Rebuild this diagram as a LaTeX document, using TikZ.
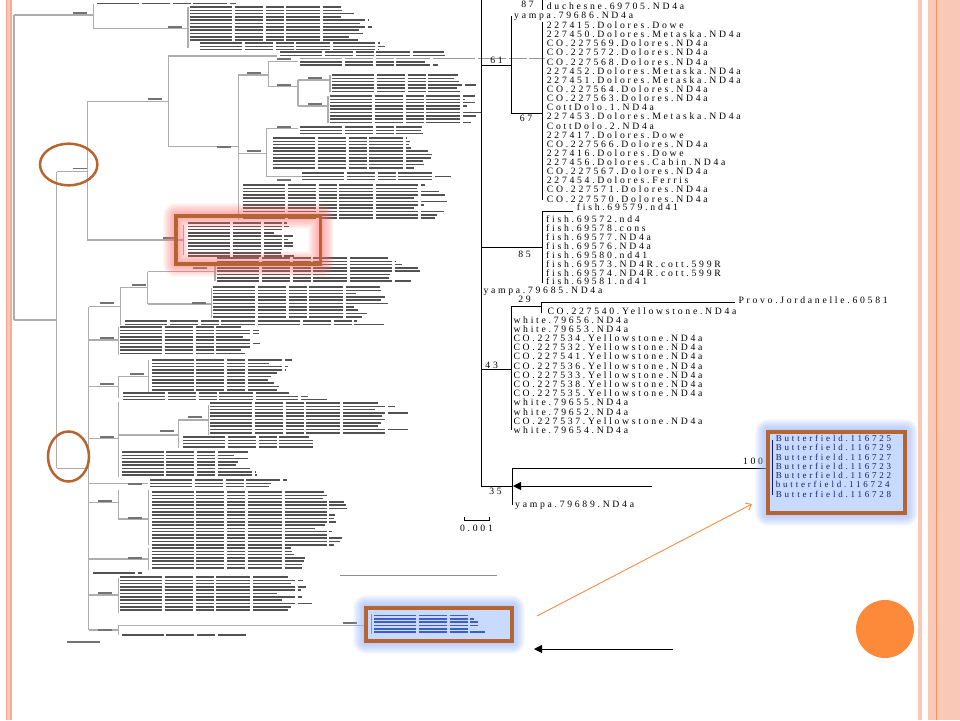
\documentclass[tikz,border=0pt]{standalone}
\usepackage{fontspec}
\setmainfont{Liberation Serif}
\newfontfamily\treefont[LetterSpace=28]{Liberation Serif}
\newfontfamily\bftreefont[LetterSpace=31]{Liberation Serif}
\usetikzlibrary{arrows.meta}
\definecolor{pinkb}{RGB}{250,200,182}
\definecolor{pinkd}{RGB}{244,170,148}
\definecolor{orline}{RGB}{240,150,100}
\definecolor{boxbrown}{RGB}{182,100,48}
\definecolor{redglow}{RGB}{255,110,110}
\definecolor{blueglow}{RGB}{140,175,255}
\definecolor{bluefill}{RGB}{200,218,255}
\definecolor{orangec}{RGB}{253,138,58}
\definecolor{orarrow}{RGB}{245,140,70}
\definecolor{navy}{RGB}{20,30,110}
\definecolor{browtxt}{RGB}{50,80,190}
\newcommand\treerows[5][black!75]{%
  \foreach \ii in {1,...,#4}{%
    \pgfmathsetmacro\ll{#5*(0.8+0.2*rnd)}%
    \draw[trow,#1] (#2,{#3+3.3*(\ii-1)}) -- ++(\ll,0);}}
\newcommand\lblob[3][14]{\draw[blob] (#2,#3) -- ++(#1,0);}
\begin{document}
\begin{tikzpicture}[x=1pt,y=-1pt,
  lab/.style={anchor=west,inner sep=0pt,font=\treefont\fontsize{9.7}{10}\selectfont},
  blab/.style={anchor=west,inner sep=0pt,text=navy,font=\bftreefont\fontsize{9}{10}\selectfont},
  bsv/.style={anchor=center,inner sep=0pt,font=\treefont\fontsize{9.7}{10}\selectfont},
  rt/.style={draw=black,line width=1pt},
  br/.style={draw=black!32,line width=1.5pt},
  trow/.style={line width=1.6pt,opacity=0.9,dash pattern=on 42pt off 2.5pt on 28pt off 3pt on 18pt off 2.5pt on 34pt off 3pt},
  blob/.style={draw=black!55,line width=1.6pt},
  brownbox/.style={draw=boxbrown,line width=3.5pt},
  brownell/.style={draw=boxbrown,line width=2.5pt},
]
\useasboundingbox (0,0) rectangle (960,720);
\clip (0,0) rectangle (960,720);
\fill[white] (0,0) rectangle (960,720);
\pgfmathsetseed{7}

% ---------- borders ----------
\fill[pinkb] (5.7,0) rectangle (11.6,720);
\fill[pinkd] (5.7,0) rectangle (6.8,720);
\fill[pinkd] (10.3,0) rectangle (11.6,720);
\fill[pinkb] (917.7,0) rectangle (921.7,720);
\fill[pinkb] (927.7,0) rectangle (960,720);
\fill[orline] (935.8,0) rectangle (937.4,720);

% ---------- left blurred tree: branches ----------
\draw[br] (14,15) -- (14,320);
\draw[br] (14,15) -- (93.3,15);
\draw[br] (93.3,3.5) -- (93.3,28.3);
\draw[br] (93.3,28.3) -- (188,28.3);
\draw[br] (188,7) -- (188,48);
\draw[br] (14,320) -- (56.7,320);
\draw[br] (56.7,171.7) -- (56.7,468.3);
\draw[br] (56.7,171.7) -- (87.3,171.7);
\draw[br] (87.3,101.7) -- (87.3,240);
\draw[br] (87.3,101.7) -- (168.3,101.7);
\draw[br] (168.3,56) -- (168.3,146.7);
\draw[br] (168.3,56) -- (277,56);
\draw[br] (168.3,146.7) -- (238.3,146.7);
\draw[br] (238.3,75) -- (238.3,220);
\draw[br] (238.3,75) -- (268.3,75);
\draw[br] (268.3,61.7) -- (268.3,86.7);
\draw[br] (268.3,61.7) -- (298,61.7);
\draw[br] (268.3,86.7) -- (298,86.7);
\draw[br] (298,80) -- (298,106);
\draw[br] (298,80) -- (330,80);
\draw[br] (330,75) -- (330,92);
\draw[br] (298,106) -- (328,106);
\draw[br] (328,96) -- (328,123);
\draw[br] (238.3,153.3) -- (266.7,153.3);
\draw[br] (266.7,128.3) -- (266.7,176.7);
\draw[br] (266.7,128.3) -- (298,128.3);
\draw[br] (266.7,176.7) -- (301.7,176.7);
\draw[br] (87.3,240) -- (183.3,240);
\draw[br] (183.3,225) -- (183.3,255);
\draw[br] (56.7,468.3) -- (88.5,468.3);
\draw[br] (88.5,306.7) -- (88.5,630);
\draw[br] (88.5,306.7) -- (120.7,306.7);
\draw[br] (120.7,287.3) -- (120.7,325);
\draw[br] (120.7,287.3) -- (147.7,287.3);
\draw[br] (147.7,271.7) -- (147.7,304);
\draw[br] (147.7,271.7) -- (215,271.7);
\draw[br] (215,262) -- (215,281);
\draw[br] (147.7,304) -- (211.7,304);
\draw[br] (211.7,288) -- (211.7,318);
\draw[br] (88.5,340) -- (118.3,340);
\draw[br] (118.3,326.7) -- (118.3,355);
\draw[br] (88.5,386.7) -- (118.3,386.7);
\draw[br] (118.3,376.7) -- (118.3,398);
\draw[br] (118.3,376.7) -- (148.3,376.7);
\draw[br] (148.3,360) -- (148.3,391.7);
\draw[br] (88.5,438.3) -- (118.3,438.3);
\draw[br] (118.3,402) -- (118.3,476.7);
\draw[br] (118.3,435) -- (178.3,435);
\draw[br] (178.3,420) -- (178.3,448.3);
\draw[br] (178.3,420) -- (208.3,420);
\draw[br] (208.3,405) -- (208.3,435);
\draw[br] (88.5,483.3) -- (148.3,483.3);
\draw[br] (88.5,502.7) -- (118.3,502.7);
\draw[br] (118.3,490) -- (118.3,519);
\draw[br] (118.3,519) -- (148.3,519);
\draw[br] (148.3,490) -- (148.3,545);
\draw[br] (88.5,559) -- (148.3,559);
\draw[br] (148.3,548.3) -- (148.3,570);
\draw[br] (88.5,595) -- (118.3,595);
\draw[br] (118.3,578.3) -- (118.3,613.3);
\draw[br] (88.5,630) -- (118.3,630);
\draw[br] (118.3,625) -- (118.3,635);
\draw[draw=black!30,line width=1pt] (118.3,625) -- (366,625);

% ---------- left blurred tree: taxon rows ----------
\treerows{97}{3.5}{1}{143}
\treerows{190}{7}{11}{183}
\treerows{200}{43}{3}{205}
\treerows{280}{52}{2}{200}
\draw[trow,black!45] (300,58.5) -- (545,58.5);
\treerows{300}{61.7}{2}{150}
\treerows{332}{75}{6}{150}
\treerows{330}{96}{9}{152}
\treerows{300}{127}{3}{125}
\treerows{273}{138}{10}{160}
\treerows{302}{173}{3}{160}
\treerows{243}{185}{11}{205}
\treerows{188}{223}{11}{107}
\treerows{217}{258}{8}{213}
\treerows{213}{287}{10}{175}
\treerows{125}{321}{2}{280}
\treerows{120}{327}{9}{147}
\treerows{151.7}{360}{10}{145}
\treerows{123}{393}{3}{205}
\treerows{210}{403}{10}{203}
\treerows{183}{437}{4}{147}
\treerows{121.7}{452}{8}{138}
\treerows{150}{480}{3}{147}
\treerows{151.7}{492}{17}{200}
\treerows{151.7}{548}{7}{173}
\treerows{93}{573}{1}{50}
\draw[black!45,line width=1pt] (340,575) -- (497,575);
\treerows{120}{577}{11}{195}
\treerows{121.7}{635}{1}{125}

% bootstrap blobs of the left tree
\lblob{73}{13}\lblob{168}{27}\lblob{148}{99}\lblob{217}{147}\lblob{247}{72.7}
\lblob{277}{59}\lblob{277}{85}\lblob{308}{78}\lblob{308}{104}\lblob{247}{151}
\lblob{277}{127}\lblob{277}{180}\lblob{163}{238}\lblob{73}{168.3}\lblob{193}{268}
\lblob{192}{303}\lblob{132}{285}\lblob{100}{303}\lblob{100}{338}\lblob{100}{384}
\lblob{130}{374}\lblob{100}{437}\lblob{160}{431}\lblob{188}{417}\lblob{128}{484}
\lblob{98}{501}\lblob{128}{518}\lblob{128}{558}\lblob{98}{593}\lblob{98}{630}
\lblob{343}{623}\lblob[33]{67}{642}

% ---------- red highlight ----------
\foreach \k in {1,...,13}{
  \draw[redglow,line width=2*\k pt,opacity=0.06,line join=round] (176,216) rectangle (320.7,264);}
\draw[brownbox] (176,216) rectangle (320.7,264);

% ---------- ellipses ----------
\draw[brownell] (68.7,164.5) ellipse [x radius=28.7,y radius=20.8];
\draw[brownell] (68.5,456.5) ellipse [x radius=20.5,y radius=25];

% ---------- bottom blue box ----------
\foreach \k in {1,...,13}{
  \draw[blueglow,line width=2*\k pt,opacity=0.07,line join=round] (366,608) rectangle (512,641);}
\fill[bluefill] (366,608) rectangle (512,641);
\draw[browtxt!60,line width=1pt] (371,614) -- (371,634);
\treerows[browtxt]{374}{615.5}{6}{117}
\draw[brownbox] (366,608) rectangle (512,641);

% ---------- right tree ----------
\draw[rt] (481,-3) -- (481,486);
\draw[rt] (542.7,-3) -- (542.7,10);
\draw[rt] (481,65.7) -- (511.7,65.7);
\draw[rt] (511.7,15.7) -- (511.7,113.3) -- (542.7,113.3);
\draw[rt] (542.7,21.7) -- (542.7,200);
\draw[rt] (481,247.3) -- (542.7,247.3);
\draw[rt] (542.7,283.3) -- (542.7,211) -- (573,211);
\draw[rt] (481,369.3) -- (511.7,369.3);
\draw[rt] (511.7,430) -- (511.7,306.7) -- (541.7,306.7);
\draw[rt] (541.7,313) -- (541.7,302.3) -- (735,302.3);
\draw[rt] (481,486) -- (512,486);
\draw[rt] (512,505) -- (512,468) -- (768,468);

% scale bar
\draw[rt] (464.3,517.3) -- (464.3,520) -- (489.3,520) -- (489.3,517.3);
\node[bsv] (scale) at (476.5,528) {0.001};

% texts
\node[lab] (duch) at (546.7,6.3) {duchesne.69705.ND4a};
\node[bsv] (b87) at (527.5,4) {87};
\node[lab] (yam1) at (514,16.2) {yampa.79686.ND4a};
\foreach \t [count=\i from 0] in {227415.Dolores.Dowe,227450.Dolores.Metaska.ND4a,CO.227569.Dolores.ND4a,CO.227572.Dolores.ND4a,CO.227568.Dolores.ND4a,227452.Dolores.Metaska.ND4a,227451.Dolores.Metaska.ND4a,CO.227564.Dolores.ND4a,CO.227563.Dolores.ND4a,CottDolo.1.ND4a,227453.Dolores.Metaska.ND4a,CottDolo.2.ND4a,227417.Dolores.Dowe,CO.227566.Dolores.ND4a,227416.Dolores.Dowe,227456.Dolores.Cabin.ND4a,CO.227567.Dolores.ND4a,227454.Dolores.Ferris,CO.227571.Dolores.ND4a,CO.227570.Dolores.ND4a}
  {\node[lab] (dol\i) at (546.7,{25.3+9.13*\i}) {\t};}
\node[bsv] (b61) at (496.5,60) {61};
\node[bsv] (b67) at (526,118.5) {67};
\node[lab] (fish0) at (576.7,207) {fish.69579.nd41};
\foreach \t [count=\i from 1] in {fish.69572.nd4,fish.69578.cons,fish.69577.ND4a,fish.69576.ND4a,fish.69580.nd41,fish.69573.ND4R.cott.599R,fish.69574.ND4R.cott.599R,fish.69581.nd41}
  {\node[lab] (fish\i) at (546,{210+8.95*\i}) {\t};}
\node[bsv] (b85) at (524.5,254.3) {85};
\node[lab] (yam2) at (483.3,291) {yampa.79685.ND4a};
\node[bsv] (b29) at (524.5,299.5) {29};
\node[lab] (provo) at (738.3,300) {Provo.Jordanelle.60581};
\node[lab] (co540) at (547.3,310.7) {CO.227540.Yellowstone.ND4a};
\foreach \t [count=\i from 0] in {white.79656.ND4a,white.79653.ND4a,CO.227534.Yellowstone.ND4a,CO.227532.Yellowstone.ND4a,CO.227541.Yellowstone.ND4a,CO.227536.Yellowstone.ND4a,CO.227533.Yellowstone.ND4a,CO.227538.Yellowstone.ND4a,CO.227535.Yellowstone.ND4a,white.79655.ND4a,white.79652.ND4a,CO.227537.Yellowstone.ND4a,white.79654.ND4a}
  {\node[lab] (yel\i) at (513.3,{320+9.17*\i}) {\t};}
\node[bsv] (b43) at (491.7,365.5) {43};
\node[bsv] (b35) at (495.5,491.5) {35};
\node[bsv] (b100) at (753,461.5) {100};
\node[lab] (yam3) at (515,505) {yampa.79689.ND4a};

% ---------- Butterfield box ----------
\foreach \k in {1,...,13}{
  \draw[blueglow,line width=2*\k pt,opacity=0.07,line join=round] (768,432) rectangle (905,513);}
\fill[bluefill] (768,432) rectangle (905,513);
\draw[navy,line width=1pt] (772,440) -- (772,495);
\foreach \t [count=\i from 0] in {Butterfield.116725,Butterfield.116729,Butterfield.116727,Butterfield.116723,Butterfield.116722,butterfield.116724,Butterfield.116728}
  {\node[blab] (bf\i) at (775.7,{438.5+9.25*\i}) {\t};}
\draw[brownbox] (768,432) rectangle (905,513);

% ---------- arrows ----------
\coordinate (a1s) at (652,486);
\coordinate (a1e) at (513,486);
\coordinate (a2s) at (673,649);
\coordinate (a2e) at (534,649);
\coordinate (a3s) at (537,616);
\coordinate (a3e) at (752,504);
\draw[line width=1pt,-{Triangle[length=8pt,width=8pt]}] (a1s) -- (a1e);
\draw[line width=1pt,-{Triangle[length=8pt,width=8pt]}] (a2s) -- (a2e);
\draw[orarrow,line width=0.9pt,-{Straight Barb[length=5pt,width=8pt]}] (a3s) -- (a3e);

% ---------- orange dot ----------
\fill[orangec] (885,629) circle (29);
\end{tikzpicture}
\end{document}
